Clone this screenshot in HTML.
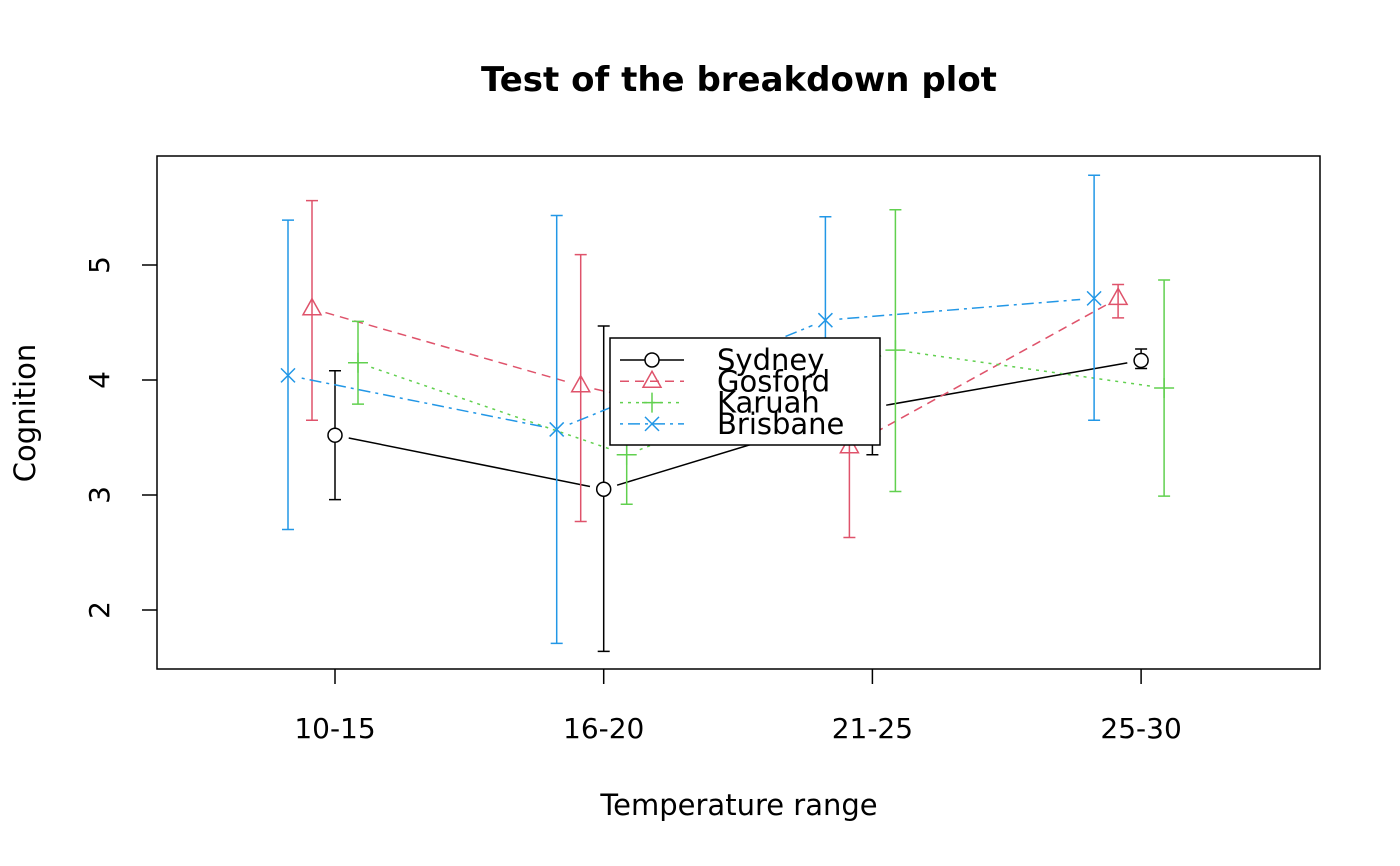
<!DOCTYPE html>
<html><head><meta charset="utf-8"><style>body{margin:0;background:#fff}svg{display:block;font-family:"DejaVu Sans","Liberation Sans",sans-serif}</style></head>
<body>
<svg id="chart" width="1400" height="866" viewBox="0 0 1400 866">
<rect width="1400" height="866" fill="#fff"/>
<text x="739" y="91" text-anchor="middle" font-size="34" font-weight="bold">Test of the breakdown plot</text>
<rect x="157" y="156" width="1163" height="513" fill="none" stroke="#000" stroke-width="1.5"/>
<text x="739" y="815" text-anchor="middle" font-size="29">Temperature range</text>
<text transform="translate(35,413) rotate(-90)" text-anchor="middle" font-size="29">Cognition</text>
<g id="axes"></g><g id="marks"></g><g id="legend"></g>
</svg>
<script>
const categories=["10-15","16-20","21-25","25-30"];
const seriesNames=["Sydney","Gosford","Karuah","Brisbane"];
const sydneyMean=[3.52,3.05,3.76,4.17];
const sydneyLow=[2.96,1.64,3.35,4.10];
const sydneyHigh=[4.08,4.47,4.20,4.27];
const gosfordMean=[4.62,3.95,3.42,4.71];
const gosfordLow=[3.65,2.77,2.63,4.54];
const gosfordHigh=[5.56,5.09,4.20,4.83];
const karuahMean=[4.15,3.35,4.26,3.93];
const karuahLow=[3.79,2.92,3.03,2.99];
const karuahHigh=[4.51,3.80,5.48,4.87];
const brisbaneMean=[4.04,3.57,4.52,4.71];
const brisbaneLow=[2.70,1.71,3.45,3.65];
const brisbaneHigh=[5.39,5.43,5.42,5.78];
const yTicks=[2,3,4,5];

const NS="http://www.w3.org/2000/svg";
function yS(v){return 610-(v-2)*115;}
function xS(i){return 335+i*268.7;}
const offsets=[0,-23,23,-47];
const colors=["#000","#DF536B","#61D04F","#2297E6"];
const dashes=["","9,6","3,5","3,5,12,5"];
const means=[sydneyMean,gosfordMean,karuahMean,brisbaneMean];
const lows=[sydneyLow,gosfordLow,karuahLow,brisbaneLow];
const highs=[sydneyHigh,gosfordHigh,karuahHigh,brisbaneHigh];
function mk(tag,attrs,parent){const e=document.createElementNS(NS,tag);for(const k in attrs)e.setAttribute(k,attrs[k]);parent.appendChild(e);return e;}
const axes=document.getElementById('axes'),marks=document.getElementById('marks'),leg=document.getElementById('legend');
categories.forEach((c,i)=>{
  const t=mk('line',{x1:xS(i),x2:xS(i),y1:669,y2:684,stroke:'#000','stroke-width':1.5},axes);
  
  
  const l=mk('text',{x:xS(i),y:738,'text-anchor':'middle','font-size':28},axes);l.textContent=c;
  
  
});
yTicks.forEach(v=>{
  const t=mk('line',{x1:142,x2:157,y1:yS(v),y2:yS(v),stroke:'#000','stroke-width':1.5},axes);
  
  
  const l=mk('text',{transform:`translate(109,${yS(v)}) rotate(-90)`,'text-anchor':'middle','font-size':28},axes);l.textContent=v;
  
  
});
function symbol(s,x,y,g){
  const c=colors[s];let e;
  if(s===0)e=mk('circle',{cx:x,cy:y,r:7,fill:'#fff',stroke:c,'stroke-width':1.5},g);
  else if(s===1)e=mk('polygon',{points:`${x},${y-10} ${x+9},${y+6} ${x-9},${y+6}`,fill:'none',stroke:c,'stroke-width':1.5},g);
  else if(s===2)e=mk('path',{d:`M${x-10},${y}H${x+10}M${x},${y-10}V${y+10}`,stroke:c,'stroke-width':1.5},g);
  else e=mk('path',{d:`M${x-7},${y-7}L${x+7},${y+7}M${x-7},${y+7}L${x+7},${y-7}`,stroke:c,'stroke-width':1.5},g);
  return e;
}
for(let s=0;s<4;s++){
  const g=mk('g',{},marks);
  
  
  for(let i=0;i<categories.length;i++){
    const x=xS(i)+offsets[s];
    const eb=mk('path',{d:`M${x},${yS(lows[s][i])}V${yS(highs[s][i])}M${x-6},${yS(lows[s][i])}H${x+6}M${x-6},${yS(highs[s][i])}H${x+6}`,stroke:colors[s],'stroke-width':1.5,fill:'none'},g);
    
    
    const p=symbol(s,x,yS(means[s][i]),g);
    
    
    if(i<categories.length-1){
      const x2=xS(i+1)+offsets[s],y1=yS(means[s][i]),y2=yS(means[s][i+1]);
      const dx=x2-x,dy=y2-y1,L=Math.hypot(dx,dy),g0=14;
      const ln=mk('line',{x1:x+dx*g0/L,y1:y1+dy*g0/L,x2:x2-dx*g0/L,y2:y2-dy*g0/L,stroke:colors[s],'stroke-width':1.5,'stroke-dasharray':dashes[s]},g);
      
      
    }
  }
}
const box=mk('rect',{x:610,y:338,width:270,height:107,fill:'#fff',stroke:'#000','stroke-width':1.5},leg);


seriesNames.forEach((n,s)=>{
  const y=360+s*21.3;
  const g=mk('g',{},leg);
  
  
  mk('line',{x1:620,x2:684,y1:y,y2:y,stroke:colors[s],'stroke-width':1.5,'stroke-dasharray':dashes[s]},g);
  symbol(s,652,y,g);
  const t=mk('text',{x:717,y:y+10,'font-size':29},g);t.textContent=n;
});
</script>
</body></html>
